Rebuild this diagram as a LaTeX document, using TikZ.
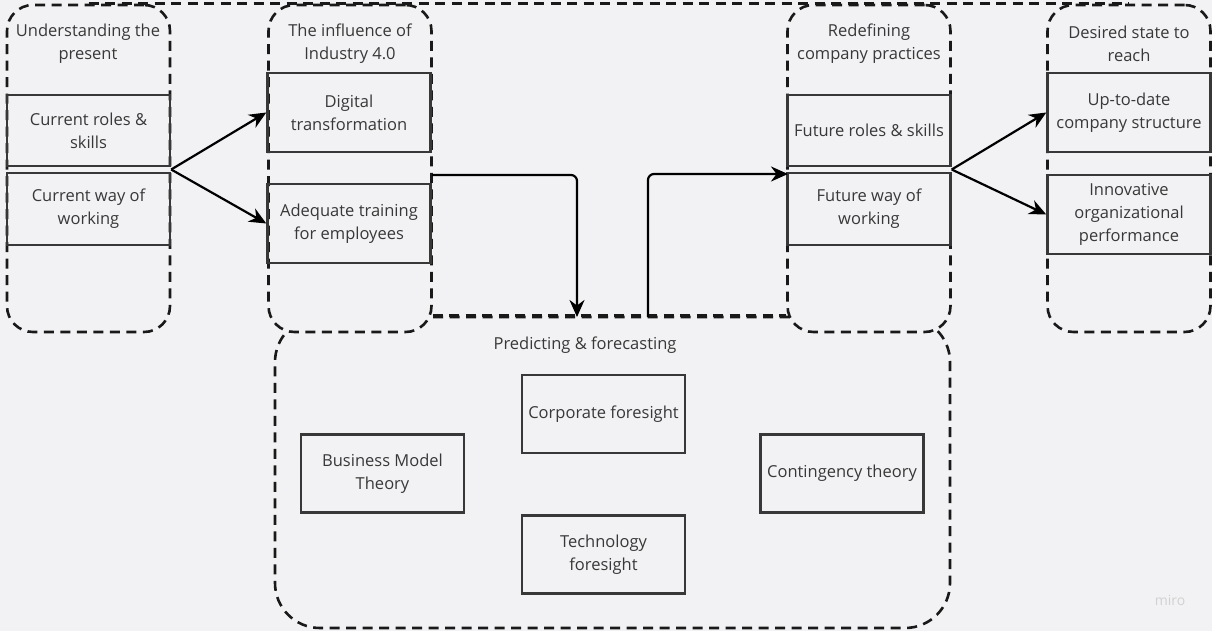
\documentclass[tikz,border=0pt]{standalone}
\usepackage{fontspec}
\setmainfont{Open Sans}
\usetikzlibrary{arrows.meta,calc}
\definecolor{bg}{HTML}{F2F2F4}
\definecolor{ink}{HTML}{383838}
\begin{document}
\begin{tikzpicture}[
    x=1pt, y=-1pt,
    >={Stealth[length=17pt,width=15pt]},
    line width=2.2pt,
    every node/.style={font=\fontsize{16.5}{23}\selectfont, text=ink, align=center, inner sep=0pt},
    frame/.style={draw=black!90, dash pattern=on 10pt off 6.5pt, line width=2.6pt, rounded corners=26pt},
    box/.style={draw=ink, line width=2.4pt, minimum width=163pt, minimum height=78pt}
]
  \fill[bg] (0,0) rectangle (1212,631);
  \useasboundingbox (0,0) rectangle (1212,631);

  % frames
  \node[frame, rounded corners=45pt, minimum width=675pt, minimum height=311pt] (pred) at (612.5,472.5) {};
  \node[frame, fill=bg, minimum width=163pt, minimum height=327pt] (c1) at (88.5,168.5) {};
  \node[frame, fill=bg, minimum width=163pt, minimum height=327pt] (c2) at (350,168.5) {};
  \node[frame, fill=bg, minimum width=163pt, minimum height=327pt] (c3) at (869,168.5) {};
  \node[frame, fill=bg, minimum width=163pt, minimum height=327pt] (c4) at (1129,168.5) {};
  \draw[frame, rounded corners=0pt] (c1.north) -- (c4.north);
  \draw[frame, rounded corners=0pt] (c2.east |- pred.north) -- (c3.west |- pred.north);

  % titles
  \node (t1) at (88,44) {Understanding the\\present};
  \node (t2) at (350,44) {The influence of\\Industry 4.0};
  \node (t3) at (869,44) {Redefining\\company practices};
  \node (t4) at (1129,44) {Desired state to\\reach};
  \node (t5) at (585,345) {Predicting \& forecasting};

  % boxes
  \node[box, minimum height=71pt] (cur1) at (88.5,130.5) {Current roles \&\\skills};
  \node[box, minimum height=72pt] (cur2) at (88.5,209) {Current way of\\working};
  \node[box, minimum height=79pt] (dig) at (349,112.5) {Digital\\transformation};
  \node[box, minimum height=79pt] (train) at (349,223.5) {Adequate training\\for employees};
  \node[box, minimum height=71pt] (fut1) at (869,130.5) {Future roles \& skills};
  \node[box, minimum height=72pt] (fut2) at (869,209) {Future way of\\working};
  \node[box, minimum height=79pt] (up) at (1129,112.5) {Up-to-date\\company structure};
  \node[box, minimum height=79pt] (inno) at (1129,214.5) {Innovative\\organizational\\performance};
  \node[box] (corp) at (603.5,414) {Corporate foresight};
  \node[box] (bmt) at (382.5,473.5) {Business Model\\Theory};
  \node[box] (tech) at (603.5,554.5) {Technology\\foresight};
  \node[box] (cont) at (842,473.5) {Contingency theory};

  \node[text=black!18, font=\fontsize{14}{14}\selectfont] (logo) at (1170,600) {miro};

  % edges
  \coordinate (j1) at ($(cur1.south east)!0.5!(cur2.north east)$);
  \coordinate (j3) at ($(fut1.south east)!0.5!(fut2.north east)$);
  \draw[->] (j1) -- (dig.west);
  \draw[->] (j1) -- (train.west);
  \draw[->] (j3) -- (up.west);
  \draw[->] (j3) -- (inno.west);

  \coordinate (e1) at (432,175);
  \coordinate (e2) at (577,317);
  \coordinate (e3) at (648,317);
  \coordinate (e4) at (788,174);
  \draw[->, rounded corners=6pt] (e1) -| (e2);
  \draw[->, rounded corners=6pt] (e3) |- (e4);
\end{tikzpicture}
\end{document}
